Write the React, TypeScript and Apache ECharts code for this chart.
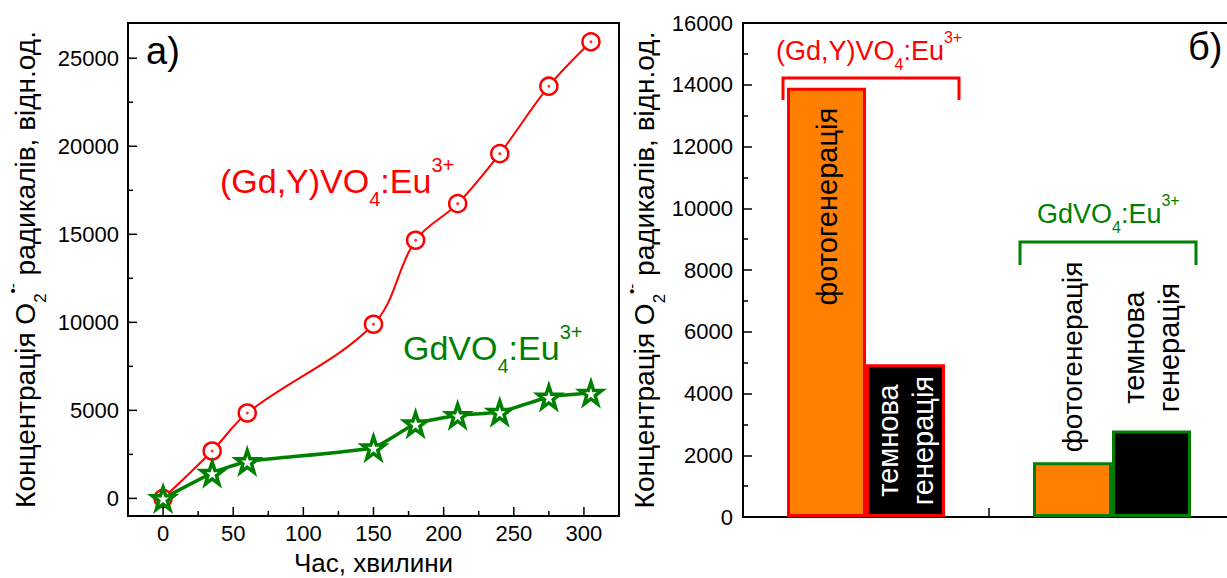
import React, { useEffect, useRef } from 'react';
import * as echarts from 'echarts';

// ---- data (left panel: time course) ----
const timeMin = [0, 35, 60, 150, 180, 210, 240, 275, 305];
const gdyVO4 = [0, 2690, 4850, 9890, 14660, 16740, 19580, 23410, 25930];
const gdVO4 = [0, 1440, 2100, 2880, 4240, 4720, 4900, 5760, 5980];
const xTickValues = [0, 50, 100, 150, 200, 250, 300];
const xMinorValues = [25, 75, 125, 175, 225, 275];
const yTickValues = [0, 5000, 10000, 15000, 20000, 25000];
const yMinorValues = [2500, 7500, 12500, 17500, 22500];

// ---- data (right panel: bars) ----
const samples = ['(Gd,Y)VO4:Eu3+', 'GdVO4:Eu3+'];
const photoGen = [13900, 1770];
const darkGen = [4950, 2800];
const sampleColors = ['#ff0000', '#008000'];
const photoLabel = 'фотогенерація';
const darkLabel = 'темнова\nгенерація';

const FONT = '"Liberation Sans", Arial, sans-serif';
const STAR = 'path://M50,2 L61.8,36.2 L97.6,36.2 L68.6,57.6 L79.4,92 L50,71 L20.6,92 L31.4,57.6 L2.4,36.2 L38.2,36.2 Z';
const Y_TITLE = 'Концентрація O{sub|2}{sup|•-} радикалів, відн.од.';

// left panel box (pixels)
const LEFT_BOX = { x: 128, y: 23, w: 491, h: 493 };

function rich(F: number, color: string) {
  const L = Math.round(1.6 * F);
  const s = Math.round(0.58 * F);
  const base = { fontFamily: FONT, color, fill: color, lineHeight: L };
  return {
    L,
    rich: {
      n: { ...base, fontSize: F },
      sub: { ...base, fontSize: s, padding: [Math.round(1.052 * F), 0, 0, 0] },
      sup: { ...base, fontSize: s, padding: [0, 0, Math.round(0.948 * F), 0] },
    },
  };
}

function formulaText(x: number, y: number, F: number, color: string, head: string) {
  const r = rich(F, color);
  return {
    type: 'text',
    x,
    y,
    style: {
      text: `{n|${head}}{sub|4}{n|:Eu}{sup|3+}`,
      rich: r.rich,
      fill: color,
      fontFamily: FONT,
      fontSize: F,
      lineHeight: r.L,
      align: 'left',
      verticalAlign: 'top',
    },
  };
}

const titleRich = rich(28, '#000');
const titleRichStyles = {
  sub: { ...titleRich.rich.sub, fontSize: 17 },
  sup: { ...titleRich.rich.sup, fontSize: 15 },
};

export default function App() {
  const ref = useRef<HTMLDivElement>(null);
  useEffect(() => {
    const el = ref.current!;
    const chart = echarts.init(el, null, { renderer: 'svg' });
    const mkLine = () => ({ show: true, onZero: false, lineStyle: { color: '#000', width: 2 } });
    const mkTick = () => ({ show: true, inside: true, length: 9, lineStyle: { color: '#000', width: 1.5 } });
    const tickLabel = { color: '#000', fontSize: 22, fontFamily: FONT };

    const tickSeries = (values: number[], dir: 'x' | 'y', len: number) => ({
      type: 'custom',
      xAxisIndex: 0,
      yAxisIndex: 0,
      clip: false,
      silent: true,
      data: values.map((v) => (dir === 'x' ? [v, 0] : [0, v])),
      renderItem: (params: any, api: any) => {
        const cs = params.coordSys;
        if (dir === 'x') {
          const p = api.coord([api.value(0), 0]);
          const yb = cs.y + cs.height;
          return { type: 'line', shape: { x1: p[0], y1: yb, x2: p[0], y2: yb - len }, style: { stroke: '#000', lineWidth: 1.5 } };
        }
        const p = api.coord([0, api.value(1)]);
        return { type: 'line', shape: { x1: cs.x, y1: p[1], x2: cs.x + len, y2: p[1] }, style: { stroke: '#000', lineWidth: 1.5 } };
      },
      z: 20,
    });

    const labelSeries = (values: number[], dir: 'x' | 'y') => ({
      type: 'custom',
      xAxisIndex: 0,
      yAxisIndex: 0,
      clip: false,
      silent: true,
      data: values.map((v) => (dir === 'x' ? [v, 0] : [0, v])),
      renderItem: (params: any, api: any) => {
        const cs = params.coordSys;
        if (dir === 'x') {
          const v = api.value(0);
          const p = api.coord([v, 0]);
          return {
            type: 'text', x: p[0], y: cs.y + cs.height + 6,
            style: { text: String(v), fill: '#000', fontSize: 22, fontFamily: FONT, align: 'center', verticalAlign: 'top' },
          };
        }
        const v = api.value(1);
        const p = api.coord([0, v]);
        return {
          type: 'text', x: cs.x - 9, y: p[1],
          style: { text: String(v), fill: '#000', fontSize: 22, fontFamily: FONT, align: 'right', verticalAlign: 'middle' },
        };
      },
      z: 20,
    });

    const option: any = {
      animation: false,
      backgroundColor: '#fff',
      grid: [
        { left: LEFT_BOX.x, top: LEFT_BOX.y, width: LEFT_BOX.w, height: LEFT_BOX.h, show: false, containLabel: false, outerBoundsMode: 'none' },
        { left: 743, top: 23, width: 492, height: 494, show: true, borderColor: '#000', borderWidth: 2, containLabel: false, outerBoundsMode: 'none' },
      ],
      xAxis: [
        { type: 'value', gridIndex: 0, min: -25, max: 325, show: false, splitLine: { show: false } },
        {
          type: 'category', gridIndex: 1, data: samples, position: 'bottom',
          axisLine: mkLine(),
          axisTick: mkTick(),
          axisLabel: { show: false },
          splitLine: { show: false },
        },
      ],
      yAxis: [
        { type: 'value', gridIndex: 0, min: -1000, max: 27000, show: false, splitLine: { show: false } },
        {
          type: 'value', gridIndex: 1, min: 0, max: 16000, interval: 2000, position: 'left',
          axisLine: mkLine(),
          axisTick: mkTick(),
          minorTick: { show: true, splitNumber: 2, length: 5, lineStyle: { color: '#000', width: 1.5 } },
          axisLabel: { ...tickLabel, margin: 10, formatter: (v: number) => String(v) },
          splitLine: { show: false },
          minorSplitLine: { show: false },
          name: Y_TITLE, nameLocation: 'middle', nameGap: 70,
          nameTextStyle: { color: '#000', fontSize: 28, fontFamily: FONT, lineHeight: titleRich.L, rich: titleRichStyles },
        },
      ],
      series: [
        {
          type: 'line', xAxisIndex: 0, yAxisIndex: 0, clip: false,
          data: timeMin.map((t, i) => [t, gdyVO4[i]]),
          smooth: 0.35,
          lineStyle: { color: '#ff0000', width: 2 },
          symbol: 'circle', symbolSize: 17,
          itemStyle: { color: '#ffffff', borderColor: '#ff0000', borderWidth: 2.5 },
          z: 3,
        },
        {
          type: 'scatter', xAxisIndex: 0, yAxisIndex: 0, clip: false,
          data: timeMin.map((t, i) => [t, gdyVO4[i]]),
          symbol: 'circle', symbolSize: 3,
          itemStyle: { color: '#ff0000' },
          z: 4,
        },
        {
          type: 'line', xAxisIndex: 0, yAxisIndex: 0, clip: false,
          data: timeMin.map((t, i) => [t, gdVO4[i]]),
          smooth: 0.15,
          lineStyle: { color: '#008000', width: 3.5 },
          symbol: STAR, symbolSize: 22,
          itemStyle: { color: '#ffffff', borderColor: '#008000', borderWidth: 3.5 },
          z: 5,
        },
        tickSeries(xTickValues, 'x', 9),
        tickSeries(yTickValues, 'y', 9),
        tickSeries(xMinorValues, 'x', 5),
        tickSeries(yMinorValues, 'y', 5),
        labelSeries(xTickValues, 'x'),
        labelSeries(yTickValues, 'y'),
        {
          type: 'bar', xAxisIndex: 1, yAxisIndex: 1,
          barWidth: 79, barGap: '0%',
          data: photoGen.map((v, i) => ({
            value: v,
            itemStyle: { color: '#ff8000', borderColor: sampleColors[i], borderWidth: 3 },
            label: i === 0
              ? { show: true, formatter: photoLabel, rotate: 90, position: 'insideTop', distance: 20, align: 'right', verticalAlign: 'middle', color: '#000', fontSize: 29, fontFamily: FONT }
              : { show: true, formatter: photoLabel, rotate: 90, position: 'top', distance: 10, align: 'left', verticalAlign: 'middle', color: '#000', fontSize: 28, fontFamily: FONT },
          })),
        },
        {
          type: 'bar', xAxisIndex: 1, yAxisIndex: 1,
          barWidth: 79, barGap: '0%',
          data: darkGen.map((v, i) => ({
            value: v,
            itemStyle: { color: '#000000', borderColor: sampleColors[i], borderWidth: 3 },
            label: i === 0
              ? { show: true, formatter: darkLabel, rotate: 90, position: 'inside', align: 'center', verticalAlign: 'middle', lineHeight: 35, color: '#fff', fontSize: 29, fontFamily: FONT }
              : { show: true, formatter: darkLabel, rotate: 90, position: 'top', distance: 83, align: 'center', verticalAlign: 'middle', lineHeight: 35, color: '#000', fontSize: 29, fontFamily: FONT },
          })),
        },
      ],
      graphic: [
        {
          type: 'polyline', z: 100,
          shape: {
            points: [
              [LEFT_BOX.x, LEFT_BOX.y],
              [LEFT_BOX.x + LEFT_BOX.w, LEFT_BOX.y],
              [LEFT_BOX.x + LEFT_BOX.w, LEFT_BOX.y + LEFT_BOX.h],
              [LEFT_BOX.x, LEFT_BOX.y + LEFT_BOX.h],
              [LEFT_BOX.x, LEFT_BOX.y - 1],
            ],
          },
          style: { stroke: '#000', lineWidth: 2, fill: null },
        },
        { type: 'text', x: 146, y: 51, style: { text: 'а)', fill: '#000', fontSize: 38, fontFamily: FONT, verticalAlign: 'middle' } },
        { type: 'text', x: 1188, y: 47, style: { text: 'б)', fill: '#000', fontSize: 38, fontFamily: FONT, verticalAlign: 'middle' } },
        {
          type: 'text', x: 25.5, y: 269.5, rotation: Math.PI / 2,
          style: {
            text: Y_TITLE, rich: titleRichStyles, fill: '#000', fontSize: 28, fontFamily: FONT,
            lineHeight: titleRich.L, align: 'center', verticalAlign: 'middle',
          },
        },
        {
          type: 'text', x: 373.5, y: 563,
          style: { text: 'Час, хвилини', fill: '#000', fontSize: 26, fontFamily: FONT, align: 'center', verticalAlign: 'middle' },
        },
        formulaText(220, 154, 34, '#ff0000', '(Gd,Y)VO'),
        formulaText(403, 321, 34, '#008000', 'GdVO'),
        formulaText(776, 29, 27, '#ff0000', '(Gd,Y)VO'),
        formulaText(1037, 192, 27, '#008000', 'GdVO'),
        {
          type: 'polyline',
          shape: { points: [[783, 100], [783, 78], [959, 78], [959, 100]] },
          style: { stroke: '#ff0000', lineWidth: 3, fill: null },
        },
        {
          type: 'polyline',
          shape: { points: [[1020, 265], [1020, 242], [1196, 242], [1196, 265]] },
          style: { stroke: '#008000', lineWidth: 3, fill: null },
        },
      ],
    };
    chart.setOption(option);
    return () => chart.dispose();
  }, []);
  return (
    <div
      ref={ref}
      style={{ position: 'fixed', left: 0, top: 0, width: 1227, height: 578, background: '#fff' }}
    />
  );
}
